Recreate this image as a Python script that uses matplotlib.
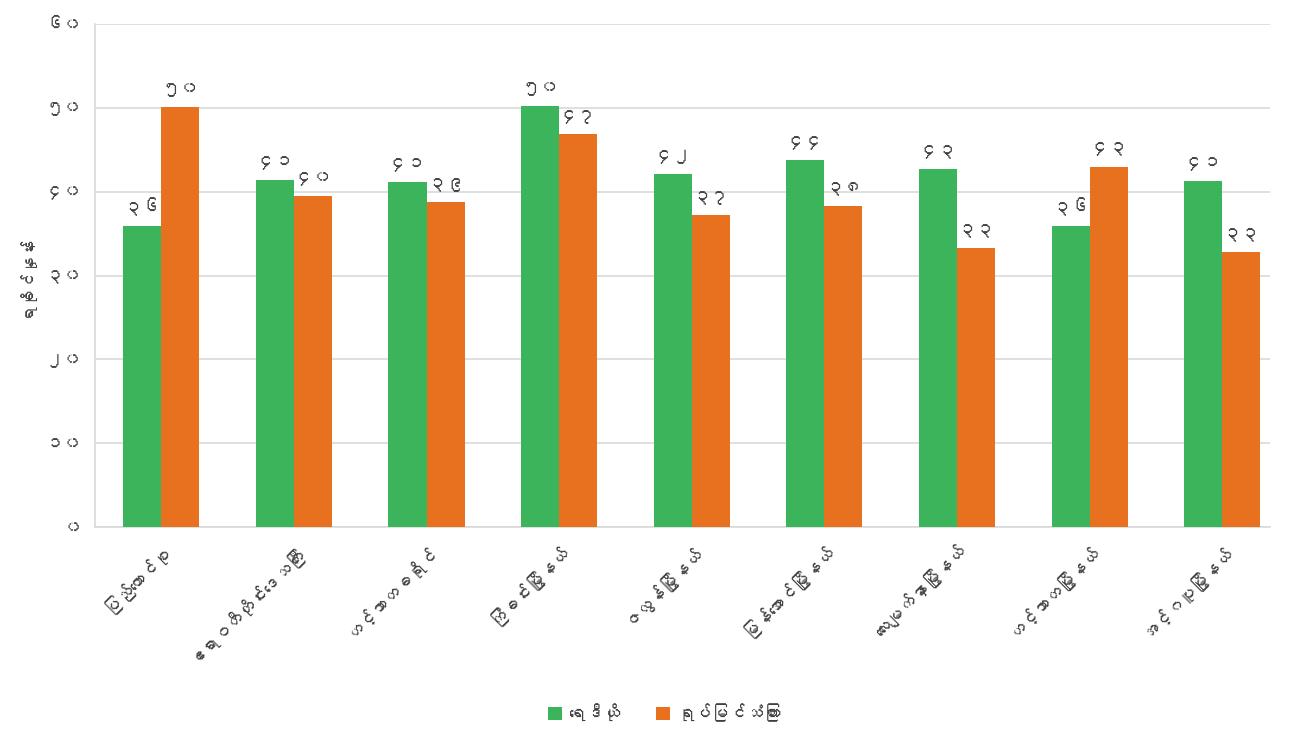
import matplotlib
matplotlib.use("Agg")
from matplotlib import pyplot as plt, font_manager
from matplotlib.ft2font import FT2Font
import numpy as np

# data
categories = ["ပြည်ထောင်စု", "ဧရာဝတီတိုင်းဒေသကြီး", "ဟင်္သာတခရိုင်", "ကြံခင်းမြို့နယ်",
              "ဇလွန်မြို့နယ်", "မြန်အောင်မြို့နယ်", "လေးမျက်နှာမြို့နယ်",
              "ဟင်္သာတမြို့နယ်", "အင်္ဂပူမြို့နယ်"]
radio = [35.9, 41.4, 41.2, 50.2, 42.1, 43.8, 42.7, 35.9, 41.3]
tv = [50.1, 39.5, 38.8, 46.9, 37.2, 38.3, 33.3, 43.0, 32.8]
series_names = ["ရေဒီယို", "ရုပ်မြင်သံကြား"]
y_label = "ရာခိုင်နှုန်း"
y_ticks = [0, 10, 20, 30, 40, 50, 60]

burmese_digits = "၀၁၂၃၄၅၆၇၈၉"


def to_my(n):
    return "".join(burmese_digits[int(c)] for c in str(n))


# look for any installed font that has myanmar glyphs
def find_myanmar_font():
    for f in font_manager.fontManager.ttflist:
        try:
            cmap = FT2Font(f.fname).get_charmap()
        except Exception:
            continue
        if 0x1000 in cmap and 0x1039 in cmap:
            return f.name
    return None


my_font = find_myanmar_font()
fams = ([my_font] if my_font else []) + ["DejaVu Sans"]
plt.rcParams['font.family'] = fams

green = "#3BB45C"
orange = "#E8711F"
txt_col = "#404040"

fig = plt.figure(figsize=(12.9, 7.29), dpi=100)
ax = fig.add_axes([95/1290, 1-527/729, (1270-95)/1290, (527-24)/729])

x = np.arange(len(categories))
w = 0.287
b1 = ax.bar(x - w/2, radio, w, color=green, label=series_names[0], zorder=3)
b2 = ax.bar(x + w/2, tv, w, color=orange, label=series_names[1], zorder=3)

for bars, vals in ((b1, radio), (b2, tv)):
    for r, v in zip(bars, vals):
        ax.text(r.get_x() + r.get_width()/2, v + 1.2, to_my(int(round(v))),
                ha='center', va='bottom', fontsize=13.5, color=txt_col)

ax.set_xlim(-0.5, 8.36)
ax.set_ylim(0, 60)
ax.set_yticks(y_ticks)
ax.set_yticklabels([to_my(t) for t in y_ticks], fontsize=13, color=txt_col)
ax.set_xticks(x)
ax.set_xticklabels(categories, rotation=45, ha='right', rotation_mode='anchor',
                   fontsize=12.5, color=txt_col)
ax.tick_params(axis='both', length=0, pad=10)
ax.grid(axis='y', color="#d9d9d9", lw=1.2, zorder=0)
for s in ['top', 'right']:
    ax.spines[s].set_visible(False)
ax.spines['left'].set_color("#d9d9d9")
ax.spines['bottom'].set_color("#d9d9d9")
ax.spines['left'].set_linewidth(1.2)
ax.spines['bottom'].set_linewidth(1.2)
ax.set_ylabel(y_label, fontsize=12, color=txt_col, labelpad=8)

fig.legend(loc='lower center', bbox_to_anchor=(0.515, -0.012), ncol=2, frameon=False,
           fontsize=12.5, handlelength=0.8, handleheight=0.8, handletextpad=0.4,
           columnspacing=2.0, labelcolor=txt_col)

fig.savefig("out.png", dpi=100, facecolor="white")
